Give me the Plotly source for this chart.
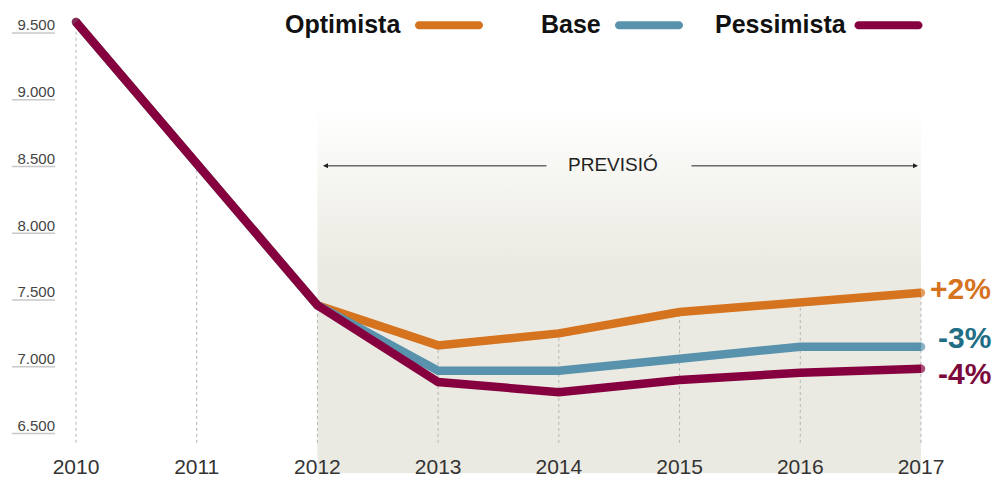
import plotly.graph_objects as go

# ---------------- data ----------------
YEARS = [2010, 2011, 2012, 2013, 2014, 2015, 2016, 2017]
HISTORY = [9522, 8460, 7400]                      # 2010-2012 (shared)
OPTIMISTA = [7400, 7100, 7190, 7350, 7430, 7495]  # 2012-2017
BASE = [7400, 6910, 6910, 7000, 7090, 7090]
PESSIMISTA = [7400, 6825, 6750, 6840, 6895, 6925]
SERIES_NAMES = ["Optimista", "Base", "Pessimista"]
END_LABELS = ["+2%", "-3%", "-4%"]
Y_TICKS = [6500, 7000, 7500, 8000, 8500, 9000, 9500]
FORECAST_LABEL = "PREVISIÓ"
FORECAST_START = 2012

# ---------------- style ----------------
W, H = 999, 482
ML, MR, MT, MB = 58, 0, 10, 30
PW, PH = W - ML - MR, H - MT - MB
X_RANGE = [2009.8509, 2017.6462]
Y_RANGE = [6301.5, 9612.4]
LINE_COLORS = ["#D5731F", "#5892AC", "#86003F"]
LABEL_COLORS = ["#D5731F", "#1F6E85", "#7D0A3C"]
LABEL_YSHIFT = [4, 9, -5]
SHADE = "#EBEAE2"
LW = 8.5
FONT = "Liberation Sans, Arial, sans-serif"
GRID_BOTTOM = 6370
SHADE_TOP = 8900
SHADE_FULL = 7700


def px_x(px):
    return (px - ML) / PW


def px_y(py):
    return (H - MB - py) / PH


forecasts = [OPTIMISTA, BASE, PESSIMISTA]
series = [HISTORY[:-1] + f for f in forecasts]
last_year = YEARS[-1]

fig = go.Figure()

# forecast shading with vertical gradient
fig.add_trace(go.Scatter(
    x=[FORECAST_START, last_year, last_year, FORECAST_START, FORECAST_START],
    y=[Y_RANGE[0] - 200, Y_RANGE[0] - 200, SHADE_TOP, SHADE_TOP, Y_RANGE[0] - 200],
    mode="none", fill="toself",
    fillgradient=dict(type="vertical", start=SHADE_FULL, stop=SHADE_TOP,
                      colorscale=[[0, SHADE], [1, "rgba(235,234,226,0)"]]),
    hoverinfo="skip", showlegend=False,
))

# dashed vertical guides from the bottom up to the highest line
gx, gy = [], []
for i, yr in enumerate(YEARS):
    top = max(s[i] for s in series)
    gx += [yr, yr, None]
    gy += [GRID_BOTTOM, top, None]
fig.add_trace(go.Scatter(x=gx, y=gy, mode="lines",
                         line=dict(color="#B4B4B4", width=1, dash="3px,3px"),
                         hoverinfo="skip", showlegend=False))

# scenario lines (pessimista on top)
for name, s, col in zip(SERIES_NAMES, series, LINE_COLORS):
    sizes = [0] * len(s)
    sizes[0] = LW
    sizes[-1] = LW
    fig.add_trace(go.Scatter(
        x=YEARS, y=s, mode="lines+markers", name=name,
        line=dict(color=col, width=LW),
        marker=dict(size=sizes, color=col, line=dict(width=0)),
        showlegend=False,
    ))

annotations = []
shapes = []

# shading continues under the x labels
shapes.append(dict(type="rect", xref="x", yref="paper", x0=FORECAST_START, x1=last_year,
                   y0=px_y(473), y1=0.02, fillcolor=SHADE, line=dict(width=0), layer="below"))

# end labels
for lab, s, col, ys in zip(END_LABELS, series, LABEL_COLORS, LABEL_YSHIFT):
    annotations.append(dict(x=last_year, y=s[-1], xref="x", yref="y", text=lab,
                            showarrow=False, xanchor="right", yanchor="middle",
                            xshift=72, yshift=ys,
                            font=dict(family=FONT, size=30, color=col, weight="bold")))

# y tick underlines
for tv in Y_TICKS:
    shapes.append(dict(type="line", xref="paper", yref="y", x0=px_x(12), x1=px_x(55),
                       ysizemode="pixel", yanchor=tv, y0=-8, y1=-8,
                       line=dict(color="#C8C8C8", width=1.5)))

# legend
legend_text_right = [403, 603, 849]
legend_line_center = [449, 649, 888.5]
legend_y = 24
cap = "M -30,-4 L 30,-4 C 32.2,-4 34,-2.2 34,0 C 34,2.2 32.2,4 30,4 L -30,4 C -32.2,4 -34,2.2 -34,0 C -34,-2.2 -32.2,-4 -30,-4 Z"
for name, col, tr, lc in zip(SERIES_NAMES, LINE_COLORS, legend_text_right, legend_line_center):
    annotations.append(dict(x=px_x(tr), y=px_y(legend_y), xref="paper", yref="paper",
                            text=name, showarrow=False, xanchor="right", yanchor="middle",
                            font=dict(family=FONT, size=25, color="#111111", weight="bold")))
    shapes.append(dict(type="path", xref="paper", yref="paper",
                       xsizemode="pixel", ysizemode="pixel",
                       xanchor=px_x(lc), yanchor=px_y(legend_y + 1.3),
                       path=cap, fillcolor=col, line=dict(width=0)))

# PREVISIÓ label with arrows
ARROW_Y = 8445
annotations.append(dict(x=2014.45, y=8452, xref="x", yref="y", text=FORECAST_LABEL,
                        showarrow=False, font=dict(family=FONT, size=19, color="#222222")))
annotations.append(dict(x=FORECAST_START + 0.046, y=ARROW_Y, ax=2013.91, ay=ARROW_Y,
                        xref="x", yref="y", axref="x", ayref="y", text="",
                        showarrow=True, arrowhead=2, arrowsize=1, arrowwidth=1,
                        arrowcolor="#222222", standoff=0))
annotations.append(dict(x=last_year - 0.025, y=ARROW_Y, ax=2015.086, ay=ARROW_Y,
                        xref="x", yref="y", axref="x", ayref="y", text="",
                        showarrow=True, arrowhead=2, arrowsize=1, arrowwidth=1,
                        arrowcolor="#222222", standoff=0))

fig.update_layout(
    width=W, height=H,
    margin=dict(l=ML, r=MR, t=MT, b=MB, pad=0),
    paper_bgcolor="white", plot_bgcolor="white",
    separators=",.",
    showlegend=False,
    xaxis=dict(range=X_RANGE, tickvals=YEARS, tickformat="d", showgrid=False,
               zeroline=False, showline=False, ticks="",
               tickfont=dict(family=FONT, size=21, color="#333333")),
    yaxis=dict(range=Y_RANGE, tickvals=Y_TICKS, tickformat=",.0f", showgrid=False,
               zeroline=False, showline=False, ticks="", ticklabelstandoff=2,
               tickfont=dict(family=FONT, size=15, color="#444444")),
    shapes=shapes,
    annotations=annotations,
)

fig.write_html("out.html",
               config={"displayModeBar": False},
               post_script="document.body.style.margin='0';document.body.style.overflow='hidden';")
